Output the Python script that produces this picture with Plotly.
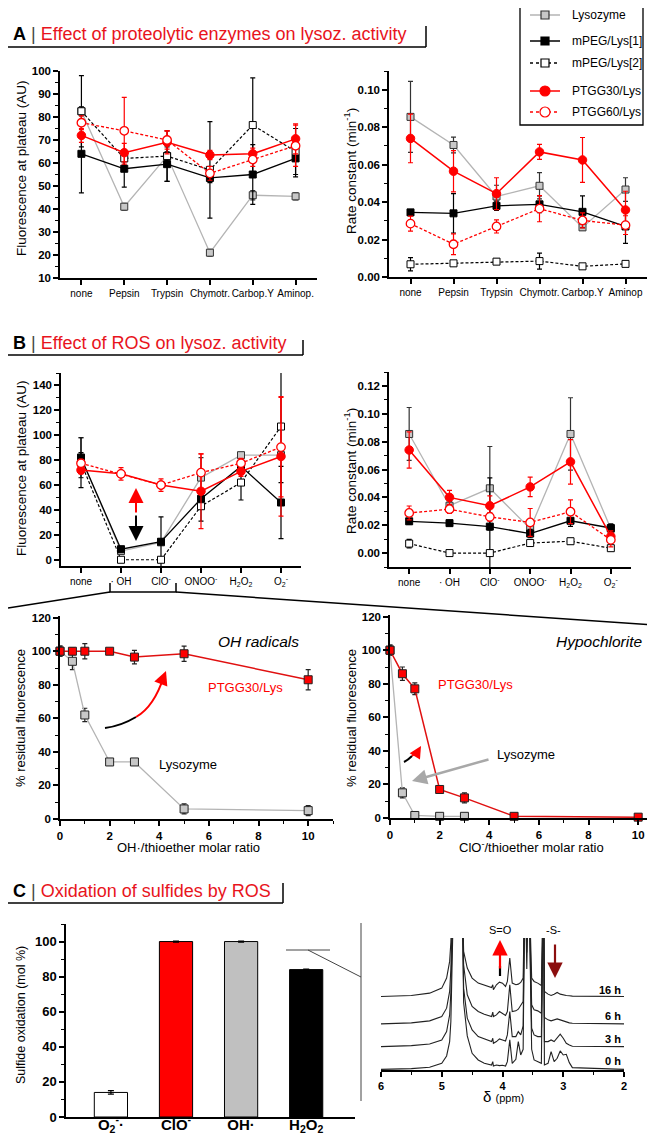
import plotly.graph_objects as go

W, H = 655, 1133
RED = "#ff0000"
TITLE_RED = "#e8141c"
GRAY_LINE = "#b4b4b4"
GRAY_FILL = "#c8c8c8"
FONT = "Arial, Liberation Sans, sans-serif"

# ---- panel A: proteolytic enzymes ----
cats_enz = ["none", "Pepsin", "Trypsin", "Chymotr.", "Carbop.Y", "Aminop."]
cats_enz_r = ["none", "Pepsin", "Trypsin", "Chymotr.", "Carbop.Y", "Aminop"]

fluo_lys = [82.5, 41, 63, 21, 46, 45.5]
fluo_lys_err = [2, 1.5, 2, 1.5, 2, 1.5]
fluo_peg1 = [64, 57.5, 59.5, 53.5, 55, 62]
fluo_peg1_err = [17, 8, 7.5, 2, 13, 8]
fluo_peg2 = [82.5, 62, 63, 57, 76.5, 65]
fluo_peg2_err = [15.5, 3, 11, 21, 20.5, 10]
fluo_ptgg30 = [72, 64.5, 69, 63.5, 64, 70.5]
fluo_ptgg30_err = [3, 4, 5, 2, 2.5, 6.5]
fluo_ptgg60 = [77.5, 74, 70, 55.5, 61.5, 67.5]
fluo_ptgg60_err = [3, 14.5, 4, 3, 3, 9]

rate_lys = [0.0855, 0.0705, 0.043, 0.0487, 0.0265, 0.0467]
rate_lys_err = [0.019, 0.0042, 0.006, 0.007, 0.0015, 0.0063]
rate_peg1 = [0.0345, 0.034, 0.038, 0.0388, 0.0348, 0.027]
rate_peg1_err = [0.0015, 0.0105, 0.0025, 0.0045, 0.0085, 0.009]
rate_peg2 = [0.0068, 0.0073, 0.0082, 0.0085, 0.0057, 0.007]
rate_peg2_err = [0.0035, 0.001, 0.0015, 0.0043, 0.001, 0.001]
rate_ptgg30 = [0.074, 0.0565, 0.0445, 0.0668, 0.0625, 0.0358]
rate_ptgg30_err = [0.013, 0.011, 0.0085, 0.004, 0.012, 0.01]
rate_ptgg60 = [0.0285, 0.0175, 0.027, 0.0365, 0.0302, 0.0277]
rate_ptgg60_err = [0.004, 0.0055, 0.0035, 0.007, 0.004, 0.005]

# ---- panel B: ROS ----
cats_ros = ["none", "· OH", "ClO<sup>-</sup>", "ONOO<sup>-</sup>",
            "H<sub>2</sub>O<sub>2</sub>", "O<sub>2</sub><sup>-</sup>"]

fluo_ros_lys = [82, 7, 14, 66, 84, 84]
fluo_ros_lys_err = [16, 2, 2, 16, 2, 3]
fluo_ros_peg1 = [82, 8.5, 14.5, 49, 75, 46]
fluo_ros_peg1_err = [4, 2, 20, 3, 4, 29]
fluo_ros_peg2 = [78, 0, 0, 43, 62, 107]
fluo_ros_peg2_err = [20, 0, 0, 12, 14, 45]
fluo_ros_ptgg30 = [72, 69, 60, 55, 71, 83]
fluo_ros_ptgg30_err = [3, 0, 0, 30, 4, 48]
fluo_ros_ptgg60 = [77.5, 69, 60, 70, 77.5, 90.5]
fluo_ros_ptgg60_err = [3, 5, 5, 15, 4, 40]

rate_ros_lys = [0.0855, 0.034, 0.0465, 0.0175, 0.0855, 0.0175]
rate_ros_lys_err = [0.019, 0.003, 0.03, 0.003, 0.026, 0.003]
rate_ros_peg1 = [0.0228, 0.0215, 0.019, 0.014, 0.0232, 0.018]
rate_ros_peg1_err = [0.002, 0.002, 0.035, 0.003, 0.004, 0.003]
rate_ros_peg2 = [0.0068, 0.0, 0.0, 0.0072, 0.0085, 0.0035]
rate_ros_peg2_err = [0.003, 0, 0, 0.002, 0.002, 0.002]
rate_ros_ptgg30 = [0.074, 0.040, 0.034, 0.0475, 0.0655, 0.012]
rate_ros_ptgg30_err = [0.013, 0.005, 0.007, 0.007, 0.016, 0.004]
rate_ros_ptgg60 = [0.0288, 0.0315, 0.026, 0.022, 0.0297, 0.0095]
rate_ros_ptgg60_err = [0.005, 0.003, 0.003, 0.01, 0.0085, 0.005]

# ---- titrations ----
ratio = [0, 0.5, 1, 2, 3, 5, 10]
oh_ptgg30 = [100, 100, 100, 100, 96.5, 98.5, 83]
oh_ptgg30_err = [3, 2, 4.5, 1.5, 4, 4.5, 6]
oh_lys = [100, 94, 62, 34, 34, 6, 5]
oh_lys_err = [3, 5, 4, 2, 1, 3, 3]
clo_ptgg30 = [100, 86, 77, 17, 12, 1, 0.5]
clo_ptgg30_err = [3, 4, 3.5, 2, 3, 1, 1]
ratio_clo_lys = [0, 0.5, 1, 2, 3]
clo_lys = [100, 15, 1.5, 1, 1]
clo_lys_err = [3, 3, 1, 1.5, 1]

# ---- panel C ----
ros_bar = ["O<sub>2</sub><sup>-</sup>·", "ClO<sup>-</sup>", "OH·", "H<sub>2</sub>O<sub>2</sub>"]
sulfide_ox = [14, 100, 100, 84]
sulfide_ox_err = [1, 0.3, 0.3, 0.3]
bar_colors = ["white", RED, "#c0c0c0", "black"]

# NMR traces (stacked intensity)
ppm = [6.0, 5.5, 5.2, 5.0, 4.92, 4.87, 4.85, 4.76, 4.67, 4.64, 4.58, 4.50, 4.40, 4.30,
       4.18, 4.16, 4.15, 4.10, 4.05, 4.00, 3.95, 3.92, 3.88, 3.84, 3.78, 3.74, 3.70, 3.66,
       3.63, 3.60, 3.57, 3.52, 3.48, 3.42, 3.36, 3.325, 3.31, 3.25, 3.20, 3.15, 3.10, 3.05,
       3.00, 2.95, 2.90, 2.85, 2.0]
nmr_0h = [0, 2, 6, 18, 40, 83, 143, 900, 600, 200, 100, 48, 28, 18,
          13, 23, 10, 13, 11, 12, 10, 23, 88, 18, 30, 83, 43, 60,
          600, 300, 600, 60, 28, 23, 18, 600, 13, 18, 53, 23, 33, 55,
          43, 45, 20, 5, 0]
nmr_3h = [68, 71, 76, 88, 113, 163, 230, 900, 600, 243, 153, 118, 98, 91,
          83, 93, 78, 83, 91, 88, 85, 103, 173, 98, 98, 113, 103, 130,
          600, 350, 600, 123, 103, 98, 98, 600, 83, 83, 88, 83, 93, 105,
          93, 78, 73, 69, 68]
nmr_6h = [136, 139, 145, 158, 183, 233, 300, 900, 600, 313, 223, 188, 173, 165,
          158, 171, 158, 163, 173, 168, 161, 173, 253, 173, 175, 180, 190, 203,
          600, 380, 600, 193, 178, 175, 168, 600, 155, 148, 145, 148, 151, 148,
          145, 140, 139, 138, 136]
nmr_16h = [218, 221, 228, 243, 273, 323, 380, 900, 600, 353, 303, 273, 258, 251,
           245, 253, 238, 253, 261, 258, 248, 263, 333, 258, 253, 255, 260, 273,
           600, 420, 600, 273, 263, 258, 251, 600, 233, 225, 221, 225, 230, 225,
           222, 221, 220, 219, 218]
nmr_labels = ["0 h", "3 h", "6 h", "16 h"]

legend_names = ["Lysozyme", "mPEG/Lys[1]", "mPEG/Lys[2]", "PTGG30/Lys", "PTGG60/Lys"]


def px(x):
    return x / W


def py(y):
    return 1 - y / H


STYLE = {
    "lys": dict(line=dict(color=GRAY_LINE, width=1.3),
                marker=dict(symbol="square", size=7, color=GRAY_FILL, line=dict(color="#333", width=1)),
                err="#333"),
    "peg1": dict(line=dict(color="black", width=1.3),
                 marker=dict(symbol="square", size=7, color="black", line=dict(color="black", width=1)),
                 err="black"),
    "peg2": dict(line=dict(color="black", width=1.2, dash="3px,2px"),
                 marker=dict(symbol="square", size=7, color="white", line=dict(color="black", width=1)),
                 err="black"),
    "ptgg30": dict(line=dict(color=RED, width=1.5),
                   marker=dict(symbol="circle", size=8.5, color=RED, line=dict(color=RED, width=1)),
                   err=RED),
    "ptgg60": dict(line=dict(color=RED, width=1.3, dash="3px,2px"),
                   marker=dict(symbol="circle", size=8.5, color="white", line=dict(color=RED, width=1.3)),
                   err=RED),
    "lys_t": dict(line=dict(color=GRAY_LINE, width=1.3),
                  marker=dict(symbol="square", size=8, color=GRAY_FILL, line=dict(color="#222", width=1)),
                  err="#222"),
    "ptgg_t": dict(line=dict(color="#e01010", width=1.5),
                   marker=dict(symbol="square", size=8, color=RED, line=dict(color="#222", width=1)),
                   err="#222"),
}

fig = go.Figure()


def add_series(x, y, err, key, n):
    s = STYLE[key]
    fig.add_trace(go.Scatter(
        x=x, y=y, mode="lines+markers", line=s["line"], marker=s["marker"],
        error_y=dict(type="data", array=err, color=s["err"], thickness=1.2, width=2.5),
        xaxis="x" + n, yaxis="y" + n, showlegend=False, cliponaxis=False))


for n, xs, sets in [
    ("", cats_enz, [(fluo_lys, fluo_lys_err, "lys"), (fluo_peg1, fluo_peg1_err, "peg1"),
                    (fluo_peg2, fluo_peg2_err, "peg2"), (fluo_ptgg30, fluo_ptgg30_err, "ptgg30"),
                    (fluo_ptgg60, fluo_ptgg60_err, "ptgg60")]),
    ("2", cats_enz_r, [(rate_lys, rate_lys_err, "lys"), (rate_peg1, rate_peg1_err, "peg1"),
                       (rate_peg2, rate_peg2_err, "peg2"), (rate_ptgg30, rate_ptgg30_err, "ptgg30"),
                       (rate_ptgg60, rate_ptgg60_err, "ptgg60")]),
    ("3", cats_ros, [(fluo_ros_lys, fluo_ros_lys_err, "lys"), (fluo_ros_peg1, fluo_ros_peg1_err, "peg1"),
                     (fluo_ros_peg2, fluo_ros_peg2_err, "peg2"), (fluo_ros_ptgg30, fluo_ros_ptgg30_err, "ptgg30"),
                     (fluo_ros_ptgg60, fluo_ros_ptgg60_err, "ptgg60")]),
    ("4", cats_ros, [(rate_ros_lys, rate_ros_lys_err, "lys"), (rate_ros_peg1, rate_ros_peg1_err, "peg1"),
                     (rate_ros_peg2, rate_ros_peg2_err, "peg2"), (rate_ros_ptgg30, rate_ros_ptgg30_err, "ptgg30"),
                     (rate_ros_ptgg60, rate_ros_ptgg60_err, "ptgg60")]),
]:
    for y, e, k in sets:
        add_series(xs, y, e, k, n)

add_series(ratio, oh_lys, oh_lys_err, "lys_t", "5")
add_series(ratio, oh_ptgg30, oh_ptgg30_err, "ptgg_t", "5")
add_series(ratio_clo_lys, clo_lys, clo_lys_err, "lys_t", "6")
add_series(ratio, clo_ptgg30, clo_ptgg30_err, "ptgg_t", "6")

fig.add_trace(go.Bar(
    x=ros_bar, y=sulfide_ox, width=0.51,
    marker=dict(color=bar_colors, line=dict(color="black", width=1)),
    error_y=dict(type="data", array=sulfide_ox_err, color="black", thickness=1.2, width=3),
    xaxis="x7", yaxis="y7", showlegend=False))

for trace in [nmr_0h, nmr_3h, nmr_6h, nmr_16h]:
    fig.add_trace(go.Scatter(x=ppm, y=trace, mode="lines", line=dict(color="#222", width=1.1),
                             xaxis="x8", yaxis="y8", showlegend=False))

# ---- axes ----
BASE = dict(showline=True, linecolor="black", linewidth=1.5, ticks="outside", ticklen=5,
            tickwidth=1.5, tickcolor="black", showgrid=False, zeroline=False, fixedrange=True)
BOLD = dict(family=FONT, size=11.5, color="black", weight="bold")
CAT = dict(family=FONT, size=10, color="black")


def minor(d):
    return dict(ticks="outside", ticklen=3, tickwidth=1.2, tickcolor="black", dtick=d)


def xdom(a, b):
    return [px(a), px(b)]


def ydom(top, bottom):
    return [py(bottom), py(top)]


axes = {
    "": (dict(domain=xdom(52, 309), range=[-0.5, 5.5], type="category", tickfont=CAT, tickangle=0),
         dict(domain=ydom(63, 270), range=[10, 100], dtick=10, minor=minor(5), tickfont=BOLD)),
    "2": (dict(domain=xdom(381, 639), range=[-0.5, 5.5], type="category", tickfont=CAT, tickangle=0),
          dict(domain=ydom(63, 269), range=[0, 0.11], dtick=0.02, tickformat=".2f", minor=minor(0.01), tickfont=BOLD)),
    "3": (dict(domain=xdom(53, 293), range=[-0.5, 5.5], type="category", tickfont=CAT, tickangle=0),
          dict(domain=ydom(365, 558), range=[-5, 150], tick0=0, dtick=20, minor=minor(10), tickfont=BOLD)),
    "4": (dict(domain=xdom(381, 623), range=[-0.5, 5.5], type="category", tickfont=CAT, tickangle=0),
          dict(domain=ydom(364, 559), range=[-0.01, 0.13], tick0=0, dtick=0.02, tickformat=".2f", minor=minor(0.01), tickfont=BOLD)),
    "5": (dict(domain=xdom(52, 325), range=[0, 11], dtick=2, minor=minor(1), tickfont=BOLD),
          dict(domain=ydom(608, 811), range=[0, 121], dtick=20, minor=minor(10), tickfont=BOLD)),
    "6": (dict(domain=xdom(382, 655), range=[0, 11], dtick=2, minor=minor(1), tickfont=BOLD),
          dict(domain=ydom(607, 810), range=[0, 121], dtick=20, minor=minor(10), tickfont=BOLD)),
    "7": (dict(domain=xdom(58, 347), range=[-0.69, 3.75], type="category", ticks="", tickangle=0,
               ticklabelstandoff=-7,
               tickfont=dict(family=FONT, size=15, color="black", weight="bold")),
          dict(domain=ydom(916, 1109), range=[0, 110], dtick=20, minor=minor(10),
               tickfont=dict(family=FONT, size=13, color="black", weight="bold"))),
    "8": (dict(domain=xdom(373, 616), range=[6, 2], dtick=1, minor=minor(0.5),
               tickfont=dict(family=FONT, size=11, color="black", weight="bold")),
          dict(domain=ydom(930, 1062), range=[-2, 393], visible=False)),
}

layout = {}
for n, (xa, ya) in axes.items():
    layout["xaxis" + n] = {**BASE, **xa, "anchor": "y" + n}
    layout["yaxis" + n] = {**BASE, **ya, "anchor": "x" + n}

fig.update_layout(**layout)

# ---- annotations ----
ann = []


def text(x, y, t, size=13, color="black", xanchor="center", angle=0, **kw):
    ann.append(dict(x=px(x), y=py(y), xref="paper", yref="paper", text=t, showarrow=False,
                    xanchor=xanchor, yanchor="middle", textangle=angle,
                    font=dict(family=FONT, size=size, color=color, **kw)))


def arrow(hx, hy, ax, ay, color, width=2, size=1.3):
    ann.append(dict(x=px(hx), y=py(hy), xref="paper", yref="paper", text="", showarrow=True,
                    ax=ax, ay=ay, arrowhead=2, arrowsize=size, arrowwidth=width, arrowcolor=color))


# panel titles
for y, t in [(26, "<b>A</b> <span style='color:#444'>|</span> <span style='color:%s'>Effect of proteolytic enzymes on lysoz. activity</span>" % TITLE_RED),
             (335, "<b>B</b> <span style='color:#444'>|</span> <span style='color:%s'>Effect of ROS on lysoz. activity</span>" % TITLE_RED),
             (883, "<b>C</b> <span style='color:#444'>|</span> <span style='color:%s'>Oxidation of sulfides by ROS</span>" % TITLE_RED)]:
    text(3, y, t, size=18, xanchor="left")

# axis titles
text(13, 160, "Fluorescence at plateau (AU)", angle=-90, size=13.5)
text(342, 163, "Rate constant (min<sup>-1</sup>)", angle=-90, size=13.5)
text(13, 460, "Fluorescence at plateau (AU)", angle=-90, size=13.5)
text(342, 463, "Rate constant (min<sup>-1</sup>)", angle=-90, size=13.5)
text(12, 710, "% residual fluorescence", angle=-90, size=13)
text(343, 710, "% residual fluorescence", angle=-90, size=13)
text(180, 839, "OH·/thioether molar ratio", size=13)
text(523, 839, "ClO<sup>-</sup>/thioether molar ratio", size=13)
text(13, 1007, "Sulfide oxidation (mol %)", angle=-90, size=12.5)
text(495, 1088, "δ <span style='font-size:11px'>(ppm)</span>", size=15)

# titration labels
text(250, 633, "OH radicals", size=15.5, style="italic")
text(238, 679, "PTGG30/Lys", size=13, color=RED)
text(180, 757, "Lysozyme", size=13)
text(591, 633, "Hypochlorite", size=15.5, style="italic")
text(467, 676, "PTGG30/Lys", size=13, color=RED)
text(518, 746, "Lysozyme", size=13)

# NMR labels
for y, t in zip([1053, 1031, 1008, 982], nmr_labels):
    text(615, y, t, size=11, xanchor="right", weight="bold")
text(492, 922, "S=O", size=11)
text(545, 922, "-S-", size=11)

# legend text
leg_rows = [7, 33, 55, 83, 104]
for y, t in zip(leg_rows, legend_names):
    text(562, y, t, size=12, xanchor="left")

# arrows
arrow(128, 480, 0, 26, RED, width=2, size=1.5)
arrow(128, 533, 0, -27, "black", width=2, size=1.5)
arrow(158, 663, -4, 10, RED, width=2, size=1.4)
arrow(413, 738, -3, 5, RED, width=2, size=1.2)
arrow(404, 773, 78, -22, "#a8a8a8", width=2.5, size=1.2)
arrow(492, 932, 0, 30, RED, width=2.2, size=1.4)
arrow(547, 970, 0, -35, "#8b0e0e", width=2.2, size=1.4)

# ---- shapes ----
shapes = []


def seg(x0, y0, x1, y1, color="black", width=1.5, dash=None):
    shapes.append(dict(type="line", xref="paper", yref="paper", x0=px(x0), y0=py(y0),
                       x1=px(x1), y1=py(y1), line=dict(color=color, width=width, dash=dash)))


def curve(p0, c, p1, color):
    shapes.append(dict(type="path", xref="paper", yref="paper",
                       path="M %f,%f Q %f,%f %f,%f" % (px(p0[0]), py(p0[1]), px(c[0]), py(c[1]), px(p1[0]), py(p1[1])),
                       line=dict(color=color, width=2)))


# title boxes
for yb, yt, xr in [(39, 18, 418), (347, 332, 295), (895, 875, 275)]:
    seg(0, yb, xr, yb)
    seg(xr, yt, xr, yb)

# zoom bracket below B
shapes.append(dict(type="path", xref="paper", yref="paper",
                   path="M %f,%f L %f,%f L %f,%f L %f,%f" % (px(102), py(575), px(102), py(584),
                                                          px(168), py(584), px(168), py(575)),
                   line=dict(color="black", width=1.5)))
seg(102, 584, 0, 600)
seg(168, 584, 645, 617)

# zoom lines C
seg(278, 942, 322, 942, color="#444", width=1)
seg(300, 942, 353, 969, color="#444", width=1)
seg(353, 915, 353, 1093, color="#444", width=1)

# curved arrows
curve((97, 720), (113, 718), (128, 709), "black")
curve((128, 709), (146, 699), (156, 668), RED)
curve((396, 754), (400, 752), (404, 748), "black")
curve((404, 748), (409, 745), (411, 741), RED)
seg(492, 958, 492, 968, color="black", width=2.2)

# legend box and samples
shapes.append(dict(type="rect", xref="paper", yref="paper", x0=px(512), x1=px(635), y0=py(117), y1=py(-5),
                   line=dict(color="black", width=1.3), fillcolor="white", layer="below"))
leg_style = [(GRAY_LINE, None, "rect", GRAY_FILL, "#333"),
             ("black", None, "rect", "black", "black"),
             ("black", "dot", "rect", "white", "black"),
             (RED, None, "circle", RED, RED),
             (RED, "dot", "circle", "white", RED)]
for y, (lc, dash, sym, fill, edge) in zip(leg_rows, leg_style):
    seg(522, y, 552, y, color=lc, width=1.5, dash=dash)
    r = 4 if sym == "rect" else 5
    shapes.append(dict(type=sym, xref="paper", yref="paper", x0=px(537 - r), x1=px(537 + r),
                       y0=py(y + r), y1=py(y - r), fillcolor=fill, line=dict(color=edge, width=1.2)))

fig.update_layout(
    width=W, height=H, margin=dict(l=0, r=0, t=0, b=0, autoexpand=False),
    paper_bgcolor="white", plot_bgcolor="white",
    font=dict(family=FONT, color="black"),
    annotations=ann, shapes=shapes, showlegend=False,
)

fig.write_html("out.html")
